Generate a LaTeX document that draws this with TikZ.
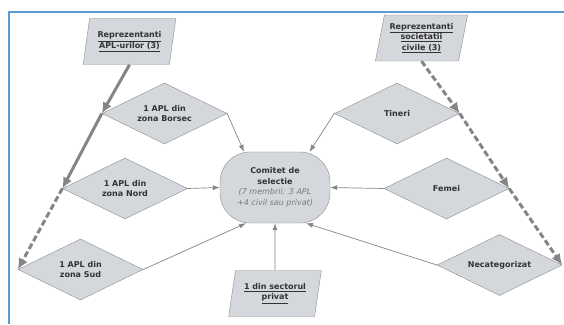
\documentclass[tikz,border=0pt]{standalone}
\usepackage{fontspec}
\setmainfont{DejaVu Sans}
\usetikzlibrary{shapes.geometric, arrows.meta, positioning}

\definecolor{boxfill}{HTML}{D4D7DB}
\definecolor{boxline}{HTML}{8C8C8C}
\definecolor{linkgray}{HTML}{858585}
\definecolor{textgray}{HTML}{333333}
\definecolor{notegray}{HTML}{7A7A7A}
\definecolor{frameblue}{HTML}{5B9BD5}

\newcommand{\labelfont}{\fontsize{8}{10.5}\selectfont\bfseries}
\newcommand{\notetext}[1]{\textcolor{notegray}{\mdseries\itshape #1}}

\tikzset{
  choice/.style={diamond, aspect=2, draw=boxline, fill=boxfill, text=textgray,
    minimum width=125pt, minimum height=61pt, inner sep=1pt, align=center, font=\labelfont},
  group/.style={trapezium, trapezium left angle=76, trapezium right angle=104,
    trapezium stretches=true, draw=boxline, fill=boxfill, text=textgray,
    minimum width=93pt, minimum height=46pt, inner sep=1pt, align=center, font=\labelfont},
  board/.style={rectangle, rounded corners=30pt, draw=boxline, fill=boxfill, text=textgray,
    minimum width=110pt, minimum height=71pt, align=center, font=\labelfont},
  feed/.style={draw=linkgray, line width=0.7pt},
  quota/.style={draw=linkgray, line width=3pt, >={Latex[length=11pt,width=10pt]}},
  dashquota/.style={quota, dash pattern=on 6pt off 3pt}
}

\begin{document}
\begin{tikzpicture}[->,>={Latex[length=7pt,width=5pt]},x=1pt,y=1pt]
\useasboundingbox (0,0) rectangle (564,324);
\draw[-, frameblue, line width=1.5pt] (9,0) -- (9,312) -- (564,312);

\node[board] (com) at (275,136.5) {Comitet de\\selectie\\\notetext{(7 membrii: 3 APL}\\\notetext{+4 civil sau privat)}};

\node[choice] (borsec) at (164.5,210.5) {1 APL din\\zona Borsec};
\node[choice] (nord) at (125,135.5) {1 APL din\\zona Nord};
\node[choice] (sud) at (80.5,54.5) {1 APL din\\zona Sud};
\node[choice] (tineri) at (397,210.5) {Tineri};
\node[choice] (femei) at (446.5,135.5) {Femei};
\node[choice] (necat) at (499.5,59) {Necategorizat};

\node[group] (apl) at (129.5,282.5) {\underline{Reprezentanti}\\\underline{APL-urilor (3)}};
\node[group] (civ) at (421.5,286) {\underline{Reprezentanti}\\\underline{societatii}\\\underline{civile (3)}};
\node[group] (priv) at (275,30.5) {\underline{1 din sectorul}\\\underline{privat}};

\path (borsec.east) edge [feed] (com.131)
      (tineri.west) edge [feed] (com.46)
      (nord.east)   edge [feed] (com.west)
      (femei.west)  edge [feed] (com.east)
      (sud.east)    edge [feed] (com.231)
      (necat.west)  edge [feed] (com.311)
      (priv.north)  edge [feed] (com.south);

\path (apl.south)   edge [quota]     (borsec.west)
      (borsec.west) edge [quota]     (nord.west)
      (nord.west)   edge [dashquota] (sud.west)
      (civ.south)   edge [dashquota] (tineri.east)
      (tineri.east) edge [dashquota] (femei.east)
      (femei.east)  edge [dashquota] (necat.east);

\end{tikzpicture}
\end{document}
